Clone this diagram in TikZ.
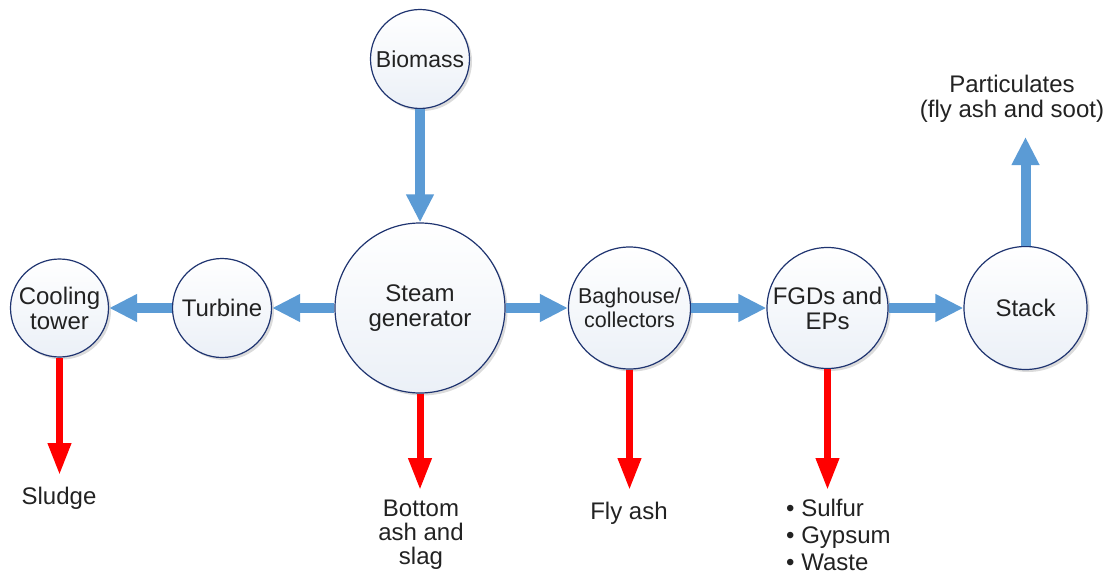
\documentclass[tikz,border=0pt]{standalone}
\usepackage{fontspec}
\setmainfont{Liberation Sans}
\usetikzlibrary{arrows.meta,shadows}
\definecolor{navy}{HTML}{1F3470}
\definecolor{circbot}{HTML}{EBF0F7}
\definecolor{flowblue}{HTML}{5B9BD5}
\definecolor{flowred}{HTML}{FF0000}
\definecolor{txt}{HTML}{222222}
\newcommand\lblfont{\fontsize{24}{25}\selectfont}
\tikzset{
  circ/.style={circle, draw=navy, line width=1.2pt, top color=white, bottom color=circbot,
    inner sep=0pt, align=center, text=txt, font=\lblfont,
    drop shadow={shadow xshift=2.5pt, shadow yshift=-2.5pt, opacity=0.2, fill=black!70}},
  bluearrow/.style={draw=flowblue, line width=10pt, -{Triangle[width=26pt,length=28pt]}},
  redarrow/.style={draw=flowred, line width=7pt, -{Triangle[width=22pt,length=32pt]}},
  lbl/.style={inner sep=0pt, text=txt, font=\lblfont, align=center}
}
\begin{document}
\begin{tikzpicture}[x=1pt,y=-1pt]
\useasboundingbox (0,0) rectangle (1118,578);
% circles
\node[circ, minimum size=99pt, font=\fontsize{23}{24}\selectfont] (bio) at (420,59) {Biomass};
\node[circ, minimum size=170pt] (steam) at (420,308) {Steam\\generator};
\node[circ, minimum size=99pt] (turb) at (222,308) {Turbine};
\node[circ, minimum size=98pt] (cool) at (59.5,308) {Cooling\\tower};
\node[circ, minimum size=122pt, font=\fontsize{21.5}{24}\selectfont] (bag) at (629.5,308) {Baghouse/\\collectors};
\node[circ, minimum size=121pt] (fgd) at (827.5,308) {FGDs and\\EPs};
\node[circ, minimum size=123pt] (stack) at (1025.5,308) {Stack};
% labels
\node[lbl] (sludge) at (59,498) {Sludge};
\node[lbl, font=\fontsize{24}{24}\selectfont] (bottom) at (421,535) {Bottom\\ash and\\slag};
\node[lbl] (flyash) at (629,513) {Fly ash};
\node[lbl, anchor=base west] (b1) at (786,516) {\textbullet\ Sulfur};
\node[lbl, anchor=base west] (b2) at (786,543) {\textbullet\ Gypsum};
\node[lbl, anchor=base west] (b3) at (786,570) {\textbullet\ Waste};
\node[lbl] (part) at (1012,99) {Particulates\\(fly ash and soot)};
% free ends
\coordinate (eSludge) at (59.5,475);
\coordinate (eBottom) at (420,490);
\coordinate (eFly) at (629.5,490);
\coordinate (eFgd) at (827.5,490);
\coordinate (eStack) at (1025.5,137);
% blue flows
\draw[bluearrow] (bio) -- (steam);
\draw[bluearrow] (steam) -- (turb);
\draw[bluearrow] (turb) -- (cool);
\draw[bluearrow] (steam) -- (bag);
\draw[bluearrow] (bag) -- (fgd);
\draw[bluearrow] (fgd) -- (stack);
\draw[bluearrow] (stack) -- (eStack);
% red flows
\draw[redarrow] (cool.south) -- (eSludge);
\draw[redarrow] (steam.south) -- (eBottom);
\draw[redarrow] (bag.south) -- (eFly);
\draw[redarrow] (fgd.south) -- (eFgd);
\end{tikzpicture}
\end{document}
